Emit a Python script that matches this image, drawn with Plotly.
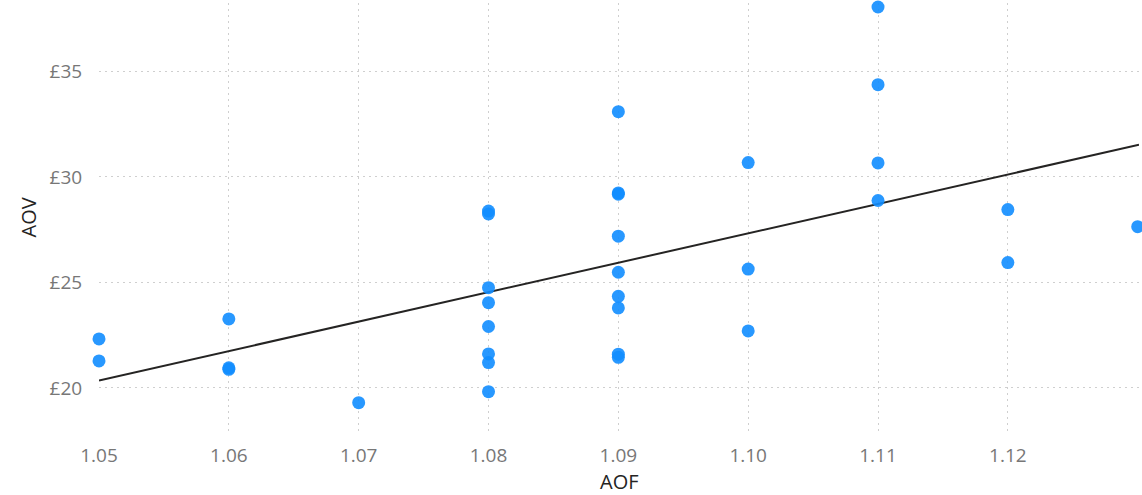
import numpy as np
import plotly.graph_objects as go

# AOF (x) and AOV (y) values
aof = [1.05, 1.05,
       1.06, 1.06, 1.06,
       1.07,
       1.08, 1.08, 1.08, 1.08, 1.08, 1.08, 1.08, 1.08,
       1.09, 1.09, 1.09, 1.09, 1.09, 1.09, 1.09, 1.09, 1.09,
       1.10, 1.10, 1.10,
       1.11, 1.11, 1.11, 1.11,
       1.12, 1.12,
       1.13]
aov = [22.32, 21.28,
       23.27, 20.95, 20.88,
       19.30,
       28.38, 28.24, 24.75, 24.04, 22.91, 21.61, 21.20, 19.82,
       33.09, 29.24, 29.18, 27.19, 25.48, 24.34, 23.79, 21.60, 21.45,
       30.68, 25.63, 22.70,
       38.05, 34.37, 30.66, 28.88,
       28.45, 25.94,
       27.64]

x_ticks = [1.05, 1.06, 1.07, 1.08, 1.09, 1.10, 1.11, 1.12]
y_ticks = [20, 25, 30, 35]

x_range = [1.05, 1.1301]
y_range = [17.91, 38.24]

# least-squares trend line
slope, intercept = np.polyfit(aof, aov, 1)
trend_x = np.array(x_range)
trend_y = slope * trend_x + intercept

fig = go.Figure()
fig.add_trace(go.Scatter(
    x=trend_x, y=trend_y, mode="lines",
    line=dict(color="#252423", width=2),
    hoverinfo="skip", showlegend=False, cliponaxis=False,
))
fig.add_trace(go.Scatter(
    x=aof, y=aov, mode="markers",
    marker=dict(color="#118DFF", size=13, opacity=0.9, line=dict(width=0)),
    showlegend=False, cliponaxis=False,
))

font_family = "Segoe UI, Open Sans, Noto Sans, sans-serif"
grid = dict(showgrid=True, gridcolor="#cfcfcf", griddash="2px,4px", gridwidth=1,
            zeroline=False, showline=False, automargin=False)

fig.update_layout(
    width=1142, height=495,
    margin=dict(l=99, r=3, t=3, b=63),
    paper_bgcolor="white", plot_bgcolor="white",
    font=dict(family=font_family),
    xaxis=dict(
        range=x_range, tickmode="array", tickvals=x_ticks,
        ticktext=[f"{v:.2f}" for v in x_ticks],
        ticks="outside", ticklen=6, tickcolor="rgba(0,0,0,0)",
        tickfont=dict(size=19, color="#777777"),
        **grid,
    ),
    yaxis=dict(
        range=y_range, tickmode="array", tickvals=y_ticks,
        ticktext=[f"£{v}" for v in y_ticks],
        ticks="outside", ticklen=12, tickcolor="rgba(0,0,0,0)",
        tickfont=dict(size=19, color="#777777"),
        **grid,
    ),
    annotations=[
        dict(text="AOF", xref="paper", yref="paper", x=0.5, y=0,
             xanchor="center", yanchor="middle", yshift=-49, showarrow=False,
             font=dict(size=20, color="#252423")),
        dict(text="AOV", xref="paper", yref="paper", x=0, y=0.5,
             xanchor="center", yanchor="middle", xshift=-71, showarrow=False,
             textangle=-90, font=dict(size=20, color="#252423")),
    ],
)

fig.write_html(
    "out.html",
    config={"displayModeBar": False},
    post_script="document.body.style.margin='0px';document.body.style.overflow='hidden';",
)
